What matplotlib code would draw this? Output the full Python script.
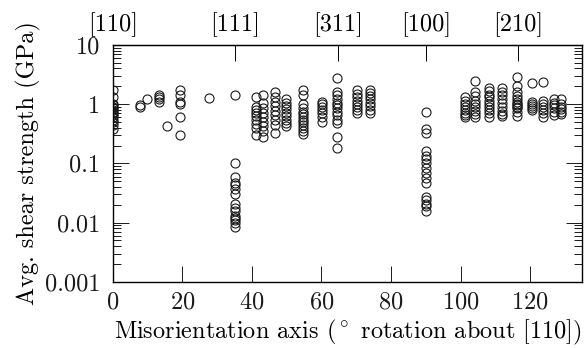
import matplotlib
matplotlib.use("Agg")
import matplotlib.pyplot as plt
from matplotlib.ticker import LogLocator, NullFormatter

plt.rcParams['font.family'] = 'cmr10'
plt.rcParams['mathtext.fontset'] = 'cm'
plt.rcParams['axes.unicode_minus'] = False
plt.rcParams['axes.formatter.use_mathtext'] = True

FS = 17.5

# misorientation angle of each column (deg) and the strengths measured there (GPa)
angles = [0.0, 7.8, 10.0, 13.3, 15.7, 19.3, 27.8, 35.1, 41.2, 43.3, 46.6, 49.8,
          54.6, 60.3, 64.6, 70.3, 74.1, 90.0, 101.3, 104.1, 108.2, 111.8,
          116.3, 120.6, 123.7, 126.8, 128.8]
strengths = [
    [1.75, 1.3, 1.0, 0.95, 0.9, 0.85, 0.8, 0.75, 0.7, 0.65, 0.6, 0.55, 0.5, 0.45, 0.38],
    [0.98, 0.88],
    [1.22],
    [1.45, 1.32, 1.2, 1.1],
    [0.42],
    [1.7, 1.45, 1.1, 1.0, 0.6, 0.3],
    [1.25],
    [1.4, 0.103, 0.060, 0.047, 0.043, 0.037, 0.031, 0.021, 0.018, 0.016, 0.013,
     0.012, 0.011, 0.010, 0.0085],
    [1.3, 0.9, 0.8, 0.7, 0.62, 0.55, 0.47, 0.4, 0.3],
    [1.45, 1.05, 0.85, 0.7, 0.6, 0.5, 0.42, 0.35, 0.28],
    [1.6, 1.3, 1.1, 0.93, 0.77, 0.65, 0.55, 0.45, 0.33],
    [1.2, 1.05, 0.93, 0.82, 0.72, 0.63, 0.55, 0.48, 0.42],
    [1.75, 1.45, 1.0, 0.85, 0.75, 0.68, 0.6, 0.55, 0.5, 0.45, 0.4, 0.35, 0.31],
    [1.1, 1.0, 0.9, 0.8, 0.7, 0.6, 0.5],
    [2.8, 1.6, 1.4, 1.2, 1.05, 0.95, 0.85, 0.75, 0.65, 0.55, 0.48, 0.28, 0.18],
    [1.75, 1.5, 1.3, 1.15, 1.0, 0.9, 0.8, 0.7],
    [1.75, 1.55, 1.35, 1.2, 1.05, 0.92, 0.8, 0.7],
    [0.75, 0.38, 0.33, 0.16, 0.135, 0.12, 0.10, 0.083, 0.068, 0.056, 0.046,
     0.027, 0.024, 0.021, 0.019, 0.016],
    [1.3, 1.15, 1.0, 0.9, 0.8, 0.72, 0.65, 0.6],
    [2.5, 1.6, 1.35, 1.15, 1.0, 0.88, 0.78, 0.68, 0.6],
    [1.9, 1.65, 1.45, 1.3, 1.15, 1.0, 0.9, 0.8, 0.7, 0.6],
    [1.85, 1.6, 1.4, 1.2, 1.05, 0.9, 0.78, 0.68, 0.62],
    [2.9, 2.0, 1.6, 1.35, 1.2, 1.1, 1.0, 0.95, 0.9, 0.85, 0.75, 0.62],
    [2.3, 1.1, 1.0, 0.92, 0.85, 0.8],
    [2.4, 1.15, 1.0, 0.9, 0.8, 0.7, 0.6],
    [1.2, 1.05, 0.95, 0.85, 0.75, 0.65],
    [1.2, 1.0, 0.9, 0.82, 0.75, 0.68],
]

# special axes marked along the top
axis_angles = [0.0, 35.26, 64.76, 90.0, 116.57]
axis_labels = ['[110]', '[111]', '[311]', '[100]', '[210]']

y_ticks = [0.001, 0.01, 0.1, 1, 10]
y_labels = ['0.001', '0.01', '0.1', '1', '10']

fig, ax = plt.subplots(figsize=(5.87, 3.48), dpi=100)
fig.subplots_adjust(left=0.192, right=0.992, top=0.871, bottom=0.190)

xs = [a for a, col in zip(angles, strengths) for _ in col]
ys = [v for col in strengths for v in col]
ax.plot(xs, ys, 'o', mfc='none', mec='#1a1a1a', ms=6.5, mew=0.8)

ax.set_yscale('log')
ax.set_xlim(0, 135)
ax.set_ylim(0.001, 10)
ax.set_xticks(range(0, 121, 20))
ax.set_yticks(y_ticks, y_labels)
ax.yaxis.set_minor_locator(LogLocator(base=10, subs=range(2, 10)))
ax.yaxis.set_minor_formatter(NullFormatter())

ax.tick_params(axis='both', which='both', direction='in', width=0.7,
               labelsize=FS, colors='#1a1a1a')
ax.tick_params(axis='x', top=False, length=11.5, pad=7)
ax.tick_params(axis='y', which='major', right=True, length=11.5, pad=9)
ax.tick_params(axis='y', which='minor', right=True, length=5.8)
for s in ax.spines.values():
    s.set_linewidth(1.0)

top = ax.secondary_xaxis('top')
top.set_xticks(axis_angles, axis_labels)
top.tick_params(direction='in', length=11.5, width=0.7, labelsize=FS, pad=6)

ax.set_xlabel(r'Misorientation axis ($^\circ$ rotation about [110])', fontsize=FS, labelpad=3)
ax.set_ylabel('Avg. shear strength (GPa)', fontsize=FS, labelpad=3)

fig.savefig('out.png', dpi=100)
